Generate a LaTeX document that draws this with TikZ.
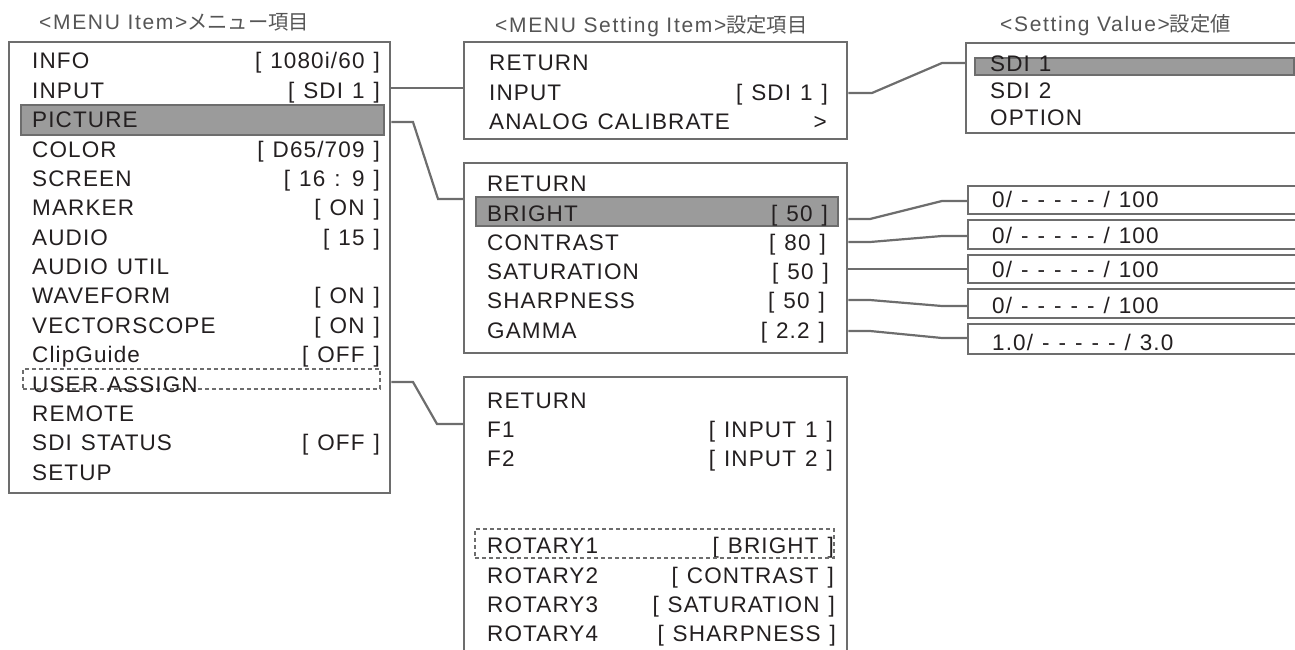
\documentclass[tikz,border=0pt]{standalone}
\usepackage{fontspec}
\setmainfont{Liberation Sans}[LetterSpace=5]
\newfontfamily\hdrfont{Liberation Sans}[LetterSpace=8]
\newfontfamily\jpfont{Noto Sans CJK JP}
\usetikzlibrary{calc}
\definecolor{frame}{HTML}{6D6D6D}
\definecolor{hlfill}{HTML}{9B9B9B}
\definecolor{txt}{HTML}{231F20}
\definecolor{hdr}{HTML}{555555}
\newcommand\bodyfs{\fontsize{22.5}{25}\selectfont\spaceskip=0.4em\relax}
\newcommand\hdrfs{\hdrfont\fontsize{21}{24}\selectfont}
\newcommand\jpfs{\jpfont\fontsize{20.3}{24}\selectfont}
\begin{document}
\begin{tikzpicture}[x=1pt,y=-1pt,
  box/.style={draw=frame,line width=2.4pt,anchor=north west,inner sep=0pt},
  hlbar/.style={draw=frame,fill=hlfill,line width=2pt,anchor=north west,inner sep=0pt},
  dbox/.style={draw=frame,dashed,dash pattern=on 4pt off 3pt,line width=1.8pt,anchor=north west,inner sep=0pt},
  lbl/.style={anchor=base west,inner sep=0pt,font=\bodyfs,text=txt},
  val/.style={anchor=base east,inner sep=0pt,font=\bodyfs,text=txt},
  hdrtxt/.style={anchor=base west,inner sep=0pt,font=\hdrfs,text=hdr},
  conn/.style={draw=frame,line width=2.2pt,line join=miter}]
\useasboundingbox (0,0) rectangle (1295,650);
\clip (0,0) rectangle (1295,650);

% headers
\node[hdrtxt] (h1) at (39,30) {<MENU Item>{\jpfs メニュー項目}};
\node[hdrtxt] (h2) at (495,33) {<MENU Setting Item>{\jpfs 設定項目}};
\node[hdrtxt] (h3) at (1000,32) {<Setting Value>{\jpfs 設定値}};

% ---------- left menu box ----------
\node[box,minimum width=381pt,minimum height=451pt] (menu) at (8,41) {};
\node[hlbar,minimum width=363pt,minimum height=30pt] (hlpic) at (20,104) {};
\node[dbox,minimum width=357pt,minimum height=20pt] (dua) at (22,368) {};
\node[lbl] (m0) at (32,69) {INFO};        \node[val] (m0v) at (380,69) {[ 1080i/60 ]};
\node[lbl] (m1) at (32,98.4) {INPUT};     \node[val] (m1v) at (380,98.4) {[ SDI 1 ]};
\node[lbl] (m2) at (32,127.7) {PICTURE};
\node[lbl] (m3) at (32,157.1) {COLOR};    \node[val] (m3v) at (380,157.1) {[ D65/709 ]};
\node[lbl] (m4) at (32,186.4) {SCREEN};   \node[val] (m4v) at (380,186.4) {[ 16 : 9 ]};
\node[lbl] (m5) at (32,215.8) {MARKER};   \node[val] (m5v) at (380,215.8) {[ ON ]};
\node[lbl] (m6) at (32,245.2) {AUDIO};    \node[val] (m6v) at (380,245.2) {[ 15 ]};
\node[lbl] (m7) at (32,274.5) {AUDIO UTIL};
\node[lbl] (m8) at (32,303.9) {WAVEFORM}; \node[val] (m8v) at (380,303.9) {[ ON ]};
\node[lbl] (m9) at (32,333.2) {VECTORSCOPE}; \node[val] (m9v) at (380,333.2) {[ ON ]};
\node[lbl] (m10) at (32,362.6) {ClipGuide}; \node[val] (m10v) at (380,362.6) {[ OFF ]};
\node[lbl] (m11) at (32,392) {USER ASSIGN};
\node[lbl] (m12) at (32,421.3) {REMOTE};
\node[lbl] (m13) at (32,450.7) {SDI STATUS}; \node[val] (m13v) at (380,450.7) {[ OFF ]};
\node[lbl] (m14) at (32,480) {SETUP};

% ---------- setting box ----------
\node[box,minimum width=383pt,minimum height=97pt] (setbox) at (463,41) {};
\node[lbl] (s0) at (489,71) {RETURN};
\node[lbl] (s1) at (489,101) {INPUT}; \node[val] (s1v) at (828,101) {[ SDI 1 ]};
\node[lbl] (s2) at (489,130) {ANALOG CALIBRATE}; \node[val] (s2v) at (827,130) {>};

% ---------- picture box ----------
\node[box,minimum width=383pt,minimum height=190pt] (picbox) at (463,162) {};
\node[hlbar,minimum width=362pt,minimum height=29pt] (hlbr) at (475,196) {};
\node[lbl] (p0) at (487,191) {RETURN};
\node[lbl] (p1) at (487,221) {BRIGHT};     \node[val] (p1v) at (828,221) {[ 50 ]};
\node[lbl] (p2) at (487,250) {CONTRAST};   \node[val] (p2v) at (826,250) {[ 80 ]};
\node[lbl] (p3) at (487,279) {SATURATION}; \node[val] (p3v) at (829,279) {[ 50 ]};
\node[lbl] (p4) at (487,308) {SHARPNESS};  \node[val] (p4v) at (825,308) {[ 50 ]};
\node[lbl] (p5) at (487,338) {GAMMA};      \node[val] (p5v) at (825,338) {[ 2.2 ]};

% ---------- user assign box ----------
\node[box,minimum width=383pt,minimum height=300pt] (usrbox) at (463,376) {};
\node[lbl] (u0) at (487,408) {RETURN};
\node[lbl] (u1) at (487,437) {F1}; \node[val] (u1v) at (833,437) {[ INPUT 1 ]};
\node[lbl] (u2) at (487,466) {F2}; \node[val] (u2v) at (833,466) {[ INPUT 2 ]};
\node[lbl] (u3) at (487,553) {ROTARY1}; \node[val] (u3v) at (834,553) {[ BRIGHT ]};
\node[lbl] (u4) at (487,583) {ROTARY2}; \node[val] (u4v) at (834,583) {[ CONTRAST ]};
\node[lbl] (u5) at (487,612) {ROTARY3}; \node[val] (u5v) at (835,612) {[ SATURATION ]};
\node[lbl] (u6) at (487,641) {ROTARY4}; \node[val] (u6v) at (836,641) {[ SHARPNESS ]};
\node[dbox,minimum width=359pt,minimum height=29pt] (drot) at (474,528) {};

% ---------- setting value box ----------
\node[box,minimum width=345pt,minimum height=90pt] (valbox) at (965,42) {};
\node[hlbar,minimum width=319pt,minimum height=17pt] (hlsdi) at (974,57) {};
\node[lbl] (v0) at (990,72) {SDI 1};
\node[lbl] (v1) at (990,99) {SDI 2};
\node[lbl] (v2) at (990,125) {OPTION};

% ---------- range boxes ----------
\node[box,minimum width=345pt,minimum height=28pt] (r1) at (967,185) {};
\node[box,minimum width=345pt,minimum height=29pt] (r2) at (967,219) {};
\node[box,minimum width=345pt,minimum height=28pt] (r3) at (967,254) {};
\node[box,minimum width=345pt,minimum height=29pt] (r4) at (967,288) {};
\node[box,minimum width=345pt,minimum height=30pt] (r5) at (967,323) {};
\node[lbl] (rt1) at (992,207) {0/ - - - - - / 100};
\node[lbl] (rt2) at (992,243) {0/ - - - - - / 100};
\node[lbl] (rt3) at (992,277) {0/ - - - - - / 100};
\node[lbl] (rt4) at (992,313) {0/ - - - - - / 100};
\node[lbl] (rt5) at (992,350) {1.0/ - - - - - / 3.0};

% ---------- connectors ----------
\coordinate (a0) at (420,88);
\draw[conn] (menu.east |- a0) -- (setbox.west |- a0);
\coordinate (a1) at (413,122); \coordinate (a2) at (438,199);
\draw[conn] (menu.east |- a1) -- (a1) -- (a2) -- (picbox.west |- a2);
\coordinate (a3) at (413,382); \coordinate (a4) at (437,424);
\draw[conn] (menu.east |- a3) -- (a3) -- (a4) -- (usrbox.west |- a4);
\coordinate (b1) at (872,93); \coordinate (b2) at (942,63);
\draw[conn] (setbox.east |- b1) -- (b1) -- (b2) -- (valbox.west |- b2);
\coordinate (c1) at (870,219); \coordinate (c2) at (942,201);
\draw[conn] (picbox.east |- c1) -- (c1) -- (c2) -- (r1.west |- c2);
\coordinate (d1) at (870,242); \coordinate (d2) at (942,236);
\draw[conn] (picbox.east |- d1) -- (d1) -- (d2) -- (r2.west |- d2);
\coordinate (e1) at (900,269);
\draw[conn] (picbox.east |- e1) -- (r3.west |- e1);
\coordinate (f1) at (870,300); \coordinate (f2) at (942,306);
\draw[conn] (picbox.east |- f1) -- (f1) -- (f2) -- (r4.west |- f2);
\coordinate (g1) at (870,331); \coordinate (g2) at (942,338);
\draw[conn] (picbox.east |- g1) -- (g1) -- (g2) -- (r5.west |- g2);
\end{tikzpicture}
\end{document}
